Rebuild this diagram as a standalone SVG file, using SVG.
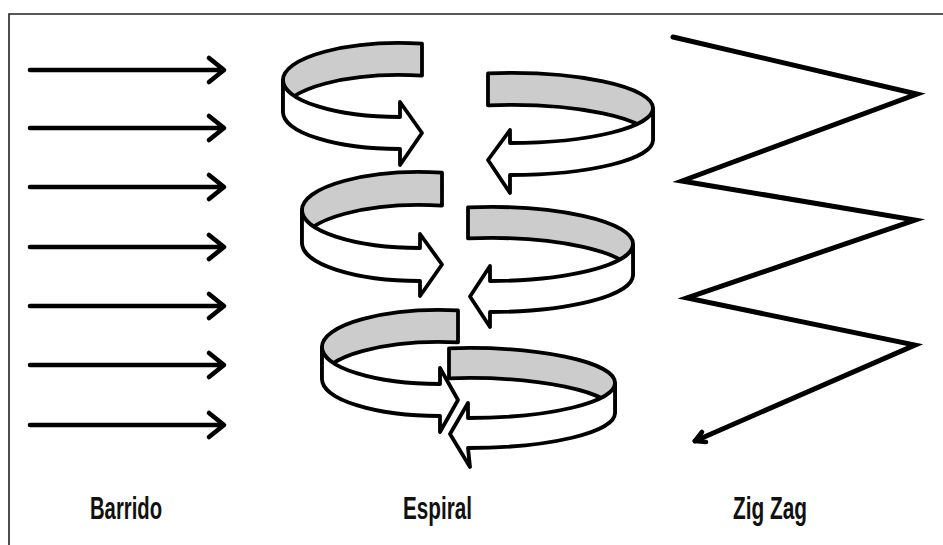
<svg xmlns="http://www.w3.org/2000/svg" width="943" height="545" viewBox="0 0 943 545">
  <style>
    .frame { fill: none; stroke: #222; stroke-width: 1.6; }
    .arrow { fill: none; stroke: #000; stroke-width: 4.6; stroke-linecap: round; stroke-linejoin: round; }
    .zz { fill: none; stroke: #000; stroke-width: 5; stroke-linecap: round; stroke-linejoin: miter; stroke-miterlimit: 10; }
    .back { fill: #cccccc; stroke: #000; stroke-width: 3.8; stroke-linejoin: round; }
    .front { fill: #ffffff; stroke: #000; stroke-width: 3.8; stroke-linejoin: round; }
    .label { font-family: "Liberation Sans", Arial, sans-serif; font-weight: bold; font-size: 31px; fill: #111; }
  </style>
  <rect width="943" height="545" fill="#ffffff"/>
  <g id="frame">
    <path class="frame" d="M9,545 L9,14 L943,14"/>
  </g>

  <g id="barrido">
    <path class="arrow" d="M30,70 H223 M209,58 L224,70 L209,82"/>
    <path class="arrow" d="M30,128 H223 M209,116 L224,128 L209,140"/>
    <path class="arrow" d="M30,187 H223 M209,175 L224,187 L209,199"/>
    <path class="arrow" d="M30,247 H223 M209,235 L224,247 L209,259"/>
    <path class="arrow" d="M30,306 H223 M209,294 L224,306 L209,318"/>
    <path class="arrow" d="M30,365 H223 M209,353 L224,365 L209,377"/>
    <path class="arrow" d="M30,425 H223 M209,413 L224,425 L209,437"/>
  </g>

  <g id="espiral">
    <g id="ring1-left">
      <path class="back" d="M422,43.66 A117,37 0 0 0 283,80 L283,112 A117,37 0 0 1 422,75.66 Z"/>
      <path class="front" d="M283,80 A117,37 0 0 0 400,117 L400,102 L422,133 L400,165 L400,149 A117,37 0 0 1 283,112 Z"/>
    </g>
    <g id="ring1-right">
      <path class="back" d="M488,73.42 A143,35 0 0 1 653,108 L653,140 A143,35 0 0 0 488,105.42 Z"/>
      <path class="front" d="M653,108 A143,35 0 0 1 510,143 L510,130 L488,160 L510,193 L510,175 A143,35 0 0 0 653,140 Z"/>
    </g>
    <g id="ring2-left">
      <path class="back" d="M442,172.66 A118,38 0 0 0 302,210 L302,243 A118,38 0 0 1 442,205.66 Z"/>
      <path class="front" d="M302,210 A118,38 0 0 0 420,248 L420,234 L442,264.5 L420,296 L420,281 A118,38 0 0 1 302,243 Z"/>
    </g>
    <g id="ring2-right">
      <path class="back" d="M468,207.44 A143,37 0 0 1 633,244 L633,275 A143,37 0 0 0 468,238.44 Z"/>
      <path class="front" d="M633,244 A143,37 0 0 1 490,281 L490,266 L470,296.5 L490,327 L490,312 A143,37 0 0 0 633,275 Z"/>
    </g>
    <g id="ring3">
      <path class="back" d="M458,310.43 A118,37 0 0 0 322,347 L322,379 A118,37 0 0 1 458,342.43 Z"/>
      <path class="back" d="M449,348.3 A147,35 0 0 1 615,383 L615,413 A147,35 0 0 0 449,378.3 Z"/>
      <path class="front" d="M322,347 A118,37 0 0 0 440,384 L440,368 L458,400 L440,432 L440,416 A118,37 0 0 1 322,379 Z"/>
      <path class="front" d="M615,383 A147,35 0 0 1 468,418 L468,403 L450,434 L470,467 L468,448 A147,35 0 0 0 615,413 Z"/>
    </g>
  </g>

  <g id="zigzag">
    <path class="zz" d="M673,37 L917,94 L682,181 L915,220 L687,298 L915,345 L695,441"/>
    <path class="arrow" d="M702,432 L695,441 L706,442"/>
  </g>

  <g id="labels">
    <text class="label" x="90" y="519" textLength="72" lengthAdjust="spacingAndGlyphs">Barrido</text>
    <text class="label" x="403" y="519" textLength="69" lengthAdjust="spacingAndGlyphs">Espiral</text>
    <text class="label" x="733" y="519" textLength="74" lengthAdjust="spacingAndGlyphs">Zig Zag</text>
  </g>
</svg>
